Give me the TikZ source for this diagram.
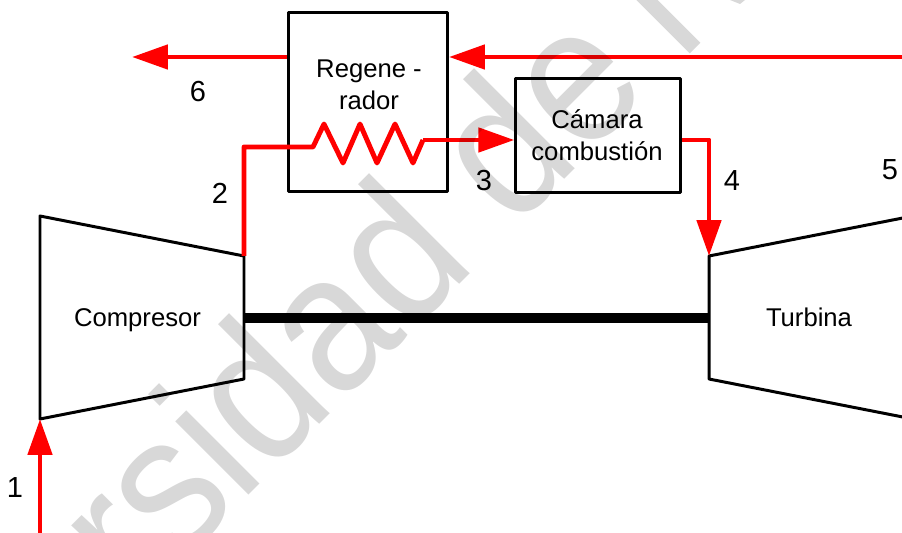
\documentclass[tikz,border=0pt]{standalone}
\usepackage{fontspec}
\setmainfont{Liberation Sans}
\definecolor{pipered}{RGB}{255,0,0}
\definecolor{markgray}{RGB}{216,216,216}
\usetikzlibrary{calc, positioning, arrows.meta}
\tikzset{
  equipbox/.style={draw=black, line width=1.7pt, line join=round, inner sep=0pt},
  pipe/.style={draw=pipered, line width=2.8pt, line join=round},
  pipearrow/.style={pipe, -{Triangle[length=0.72cm, width=0.48cm]}},
  label/.style={font=\fontsize{14.6}{18.2}\selectfont, inner sep=0pt, align=center},
  statenum/.style={font=\fontsize{16.5}{18}\selectfont, inner sep=0pt}
}

\begin{document}
\begin{tikzpicture}[x=0.02cm, y=-0.02cm]
  \useasboundingbox (0,0) rectangle (902,533);
  \clip (0,0) rectangle (902,533);
  % boxes
  \node[equipbox, minimum width=3.18cm, minimum height=3.6cm] (regen) at (368,102) {};
  \node[label] (regentext) at (369,85) {Regene -\\rador};
  \node[equipbox, minimum width=3.3cm, minimum height=2.27cm] (camara) at (598.3,135.7) {};
  \node[label] (camaratext) at (597,134.7) {Cámara\\combustión};
  % compressor and turbine
  \coordinate (compin) at (40,419);
  \coordinate (compout) at (244,256);
  \coordinate (turbin) at (709,256);
  \draw[line width=1.7pt, line join=round] (40,216) -- (compout) -- (244,379) -- (compin) -- cycle;
  \draw[line width=1.7pt, line join=round] (913,216) -- (turbin) -- (709,379) -- (913,419);
  \node[label] (compresor) at (137.5,320) {Compresor};
  \node[label] (turbina) at (809,317) {Turbina};
  \draw[line width=5.7pt] (244,318) -- (709,318);
  % gas side
  \coordinate (gasin) at (902,57);
  \coordinate (gasout) at (132,57);
  \draw[pipearrow] (gasin) -- (regen.east |- gasin);
  \draw[pipearrow] (regen.west |- gasin) -- (gasout);
  % air side
  \coordinate (airin) at (40,533);
  \coordinate (coilout) at (423,140);
  \draw[pipearrow] (airin) -- (compin);
  \draw[pipe] (compout) -- (244,147) -- (313,147) -- (324,124) -- (343,163) -- (360,124)
    -- (377,163) -- (395,124) -- (413,163) -- (coilout);
  \draw[pipearrow] (coilout) -- (camara.west |- coilout);
  \draw[pipearrow] (camara.east |- coilout) -| (turbin);
  % numbers
  \node[statenum] (n1) at (15,488) {1};
  \node[statenum] (n2) at (220,193) {2};
  \node[statenum] (n3) at (484,181) {3};
  \node[statenum] (n4) at (732,181) {4};
  \node[statenum] (n5) at (890,170) {5};
  \node[statenum] (n6) at (198,92) {6};
  % watermark
  \begin{scope}[blend mode=multiply]
    \node[rotate=45, xscale=0.88, yscale=0.97, anchor=base west, inner sep=0pt, text=markgray,
          font=\fontsize{115}{115}\selectfont] (marca) at (136,608) {rsidad de};
    \draw[markgray, line width=8.5pt] (695,48) -- (630,-17);
    \fill[markgray] (730,0) -- (745,0) -- (740,4) -- cycle;
  \end{scope}
\end{tikzpicture}
\end{document}
